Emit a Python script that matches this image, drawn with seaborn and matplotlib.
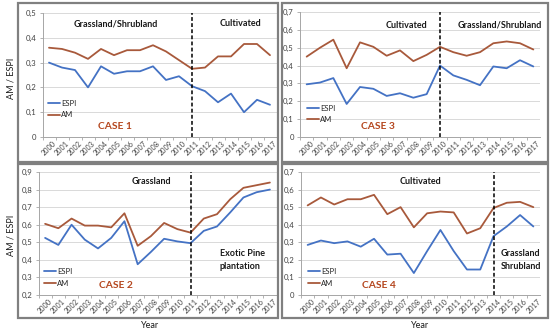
import matplotlib
matplotlib.use("Agg")
import matplotlib.pyplot as plt
from matplotlib.patches import Rectangle
import seaborn as sns
import pandas as pd

years = list(range(2000, 2018))

case1_espi = [0.30, 0.28, 0.27, 0.20, 0.285, 0.255, 0.265, 0.265, 0.285, 0.23, 0.245, 0.205, 0.185, 0.14, 0.175, 0.10, 0.15, 0.13]
case1_am = [0.36, 0.355, 0.34, 0.315, 0.355, 0.33, 0.35, 0.35, 0.37, 0.345, 0.31, 0.275, 0.28, 0.325, 0.325, 0.375, 0.375, 0.33]

case3_espi = [0.295, 0.305, 0.33, 0.185, 0.28, 0.27, 0.23, 0.245, 0.22, 0.24, 0.40, 0.345, 0.32, 0.29, 0.395, 0.385, 0.43, 0.395]
case3_am = [0.45, 0.50, 0.545, 0.385, 0.53, 0.505, 0.455, 0.485, 0.425, 0.46, 0.505, 0.475, 0.455, 0.475, 0.525, 0.535, 0.525, 0.49]

case2_espi = [0.525, 0.485, 0.60, 0.515, 0.465, 0.525, 0.62, 0.375, 0.445, 0.52, 0.505, 0.495, 0.565, 0.59, 0.67, 0.755, 0.785, 0.80]
case2_am = [0.605, 0.58, 0.635, 0.595, 0.595, 0.585, 0.665, 0.48, 0.535, 0.61, 0.575, 0.555, 0.635, 0.66, 0.745, 0.81, 0.825, 0.84]

case4_espi = [0.285, 0.31, 0.295, 0.305, 0.275, 0.32, 0.23, 0.235, 0.125, 0.25, 0.37, 0.25, 0.145, 0.145, 0.335, 0.39, 0.455, 0.39]
case4_am = [0.51, 0.555, 0.515, 0.545, 0.545, 0.57, 0.46, 0.50, 0.385, 0.465, 0.475, 0.47, 0.35, 0.38, 0.495, 0.525, 0.53, 0.50]

series_names = ["ESPI", "AM"]
case_titles = ["CASE 1", "CASE 3", "CASE 2", "CASE 4"]
change_years = [2011, 2010, 2011, 2014]
left_labels = ["Grassland/Shrubland", "Cultivated", "Grassland", "Cultivated"]
right_labels = ["Cultivated", "Grassland/Shrubland", "Exotic Pine\nplantation", "Grassland\nShrubland"]

sns.set_theme(style="white")
plt.rcParams["font.family"] = ["Lato", "DejaVu Sans"]

W, H = 550, 334
fig = plt.figure(figsize=(5.5, 3.34), dpi=100)
fig.patch.set_facecolor("white")

def fx(x):
    return x / W

def fy(y):
    return 1 - y / H

# panel borders (pixel coords, top-origin)
for (x0, y0, x1, y1) in [(18, 3, 278, 162), (282, 3, 548, 162), (18, 164, 278, 318), (282, 164, 548, 318)]:
    fig.patches.append(Rectangle((fx(x0), fy(y1)), fx(x1 - x0), (y1 - y0) / H,
                                 transform=fig.transFigure, fill=False,
                                 edgecolor="#808080", lw=1.6, zorder=0))

colors = {"ESPI": "#4472C4", "AM": "#A8593B"}
case_color = "#B5471F"

panels = [
    dict(rect=(42.5, 13, 276.5, 137), espi=case1_espi, am=case1_am, ylim=(0, 0.5), step=0.1,
         lx=(78 + 153) / 2, rx=240, rlabel_y=24, ralign="center",
         case_x=115, leg=(0.025, 0.30)),
    dict(rect=(300, 12, 540, 137), espi=case3_espi, am=case3_am, ylim=(0, 0.7), step=0.1,
         lx=407, rx=500, rlabel_y=25, ralign="center",
         case_x=378, leg=(0.03, 0.26)),
    dict(rect=(38.5, 172, 276.5, 295), espi=case2_espi, am=case2_am, ylim=(0.2, 0.9), step=0.1,
         lx=151, rx=220, rlabel_y=260, ralign="left",
         case_x=116, leg=(0.025, 0.22)),
    dict(rect=(301, 172, 540, 295), espi=case4_espi, am=case4_am, ylim=(0, 0.7), step=0.1,
         lx=420, rx=501, rlabel_y=260, ralign="left",
         case_x=379, leg=(0.03, 0.22)),
]

for i, p in enumerate(panels):
    x0, y0, x1, y1 = p["rect"]
    ax = fig.add_axes([fx(x0), fy(y1), (x1 - x0) / W, (y1 - y0) / H])
    df = pd.DataFrame({
        "Year": years * 2,
        "value": p["espi"] + p["am"],
        "Index": ["ESPI"] * len(years) + ["AM"] * len(years),
    })
    sns.lineplot(data=df, x="Year", y="value", hue="Index", hue_order=series_names,
                 palette=colors, lw=1.3, ax=ax, legend=True)
    ax.set_xlim(1999.5, 2017.5)
    lo, hi = p["ylim"]
    ax.set_ylim(lo, hi)
    n = int(round((hi - lo) / p["step"]))
    yt = [round(lo + k * p["step"], 2) for k in range(n + 1)]
    ax.set_yticks(yt)
    ax.set_yticklabels(["0" if v == 0 else f"{v:.1f}".replace(".", ",") for v in yt])
    ax.set_xticks(years)
    ax.set_xticklabels([str(y) for y in years], rotation=45, ha="center", va="top",
                       rotation_mode="default")
    ax.set_xticks([y + 0.5 for y in years[:-1]] + [1999.5], minor=True)
    ax.tick_params(axis="x", which="major", length=0, labelsize=5.2, colors="#404040", pad=2)
    ax.tick_params(axis="x", which="minor", length=2.5, width=0.6, color="#a6a6a6", bottom=True)
    ax.tick_params(axis="y", which="major", length=2.5, width=0.6, color="#a6a6a6", left=True,
                   labelsize=5.6, labelcolor="#404040", pad=2)
    ax.grid(axis="y", color="#d9d9d9", lw=0.7)
    ax.grid(axis="x", visible=False)
    for s in ["top", "right"]:
        ax.spines[s].set_visible(False)
    for s in ["left", "bottom"]:
        ax.spines[s].set_color("#a6a6a6")
        ax.spines[s].set_linewidth(0.7)
    ax.set_xlabel("")
    ax.set_ylabel("")
    ax.set_facecolor("none")
    ax.axvline(change_years[i], color="black", ls=(0, (2.5, 1.5)), lw=1.1, zorder=5)

    sns.move_legend(ax, "upper left", bbox_to_anchor=p["leg"], frameon=False, title=None,
                    fontsize=5.5, handlelength=1.5, handletextpad=0.2, labelspacing=0.6,
                    borderaxespad=0, borderpad=0)

    # region labels
    fig.text(fx(p["lx"]), fy(p["rlabel_y"] if i < 2 else 181), left_labels[i],
             ha="center", va="center", fontsize=6.5, fontweight="bold", color="#1a1a1a")
    if p["ralign"] == "center":
        fig.text(fx(p["rx"]), fy(p["rlabel_y"]), right_labels[i], ha="center", va="center",
                 fontsize=6.5, fontweight="bold", color="#1a1a1a")
    else:
        fig.text(fx(p["rx"]), fy(p["rlabel_y"]), right_labels[i], ha="left", va="center",
                 fontsize=6.5, fontweight="bold", color="#1a1a1a", linespacing=1.5)
    # case label
    cy = 127 if i < 2 else 286
    fig.text(fx(p["case_x"]), fy(cy), case_titles[i], ha="center", va="center",
             fontsize=7.4, fontweight="bold", color=case_color)

# axis titles
fig.text(fx(11), fy(78), "AM / ESPI", rotation=90, ha="center", va="center", fontsize=6.5, color="#1a1a1a")
fig.text(fx(11), fy(235), "AM / ESPI", rotation=90, ha="center", va="center", fontsize=6.5, color="#1a1a1a")
fig.text(fx(150), fy(325), "Year", ha="center", va="center", fontsize=6.5, color="#1a1a1a")
fig.text(fx(420), fy(325), "Year", ha="center", va="center", fontsize=6.5, color="#1a1a1a")

fig.savefig("out.png", dpi=100, facecolor="white")
